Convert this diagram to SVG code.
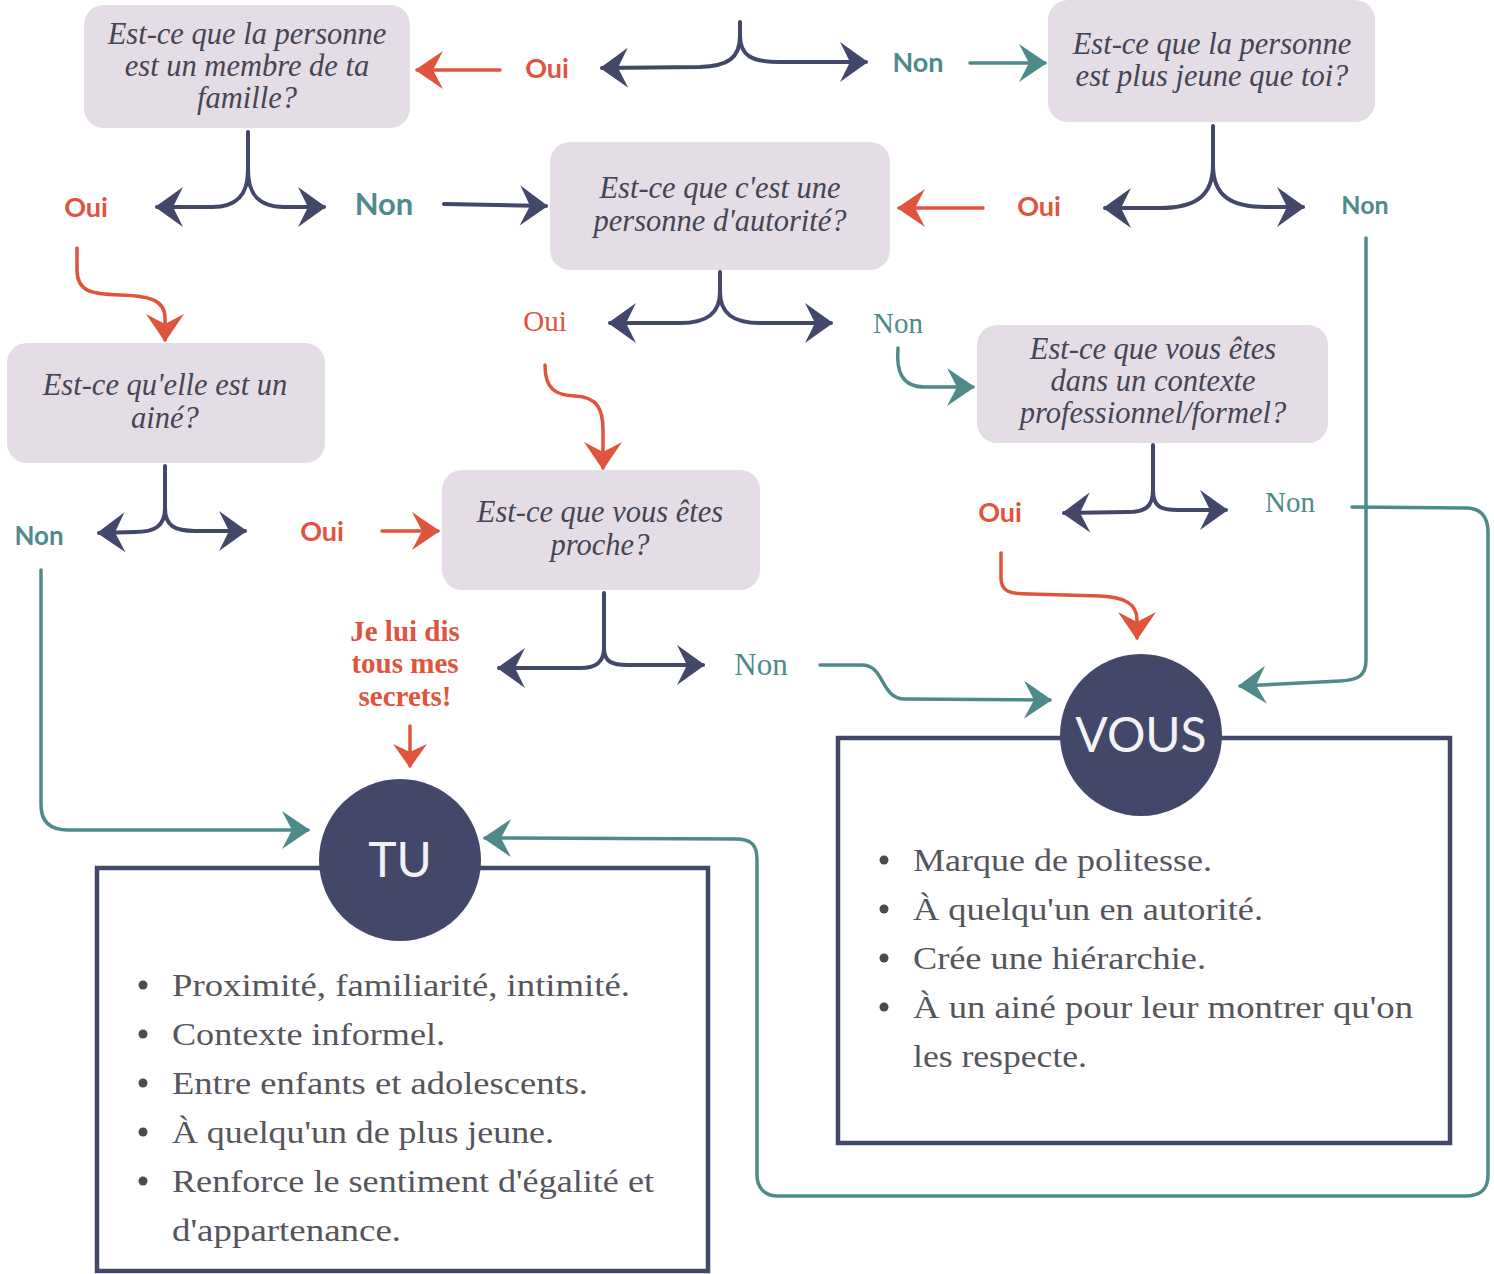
<svg xmlns="http://www.w3.org/2000/svg" width="1494" height="1274" viewBox="0 0 1494 1274">
<style>
.box{fill:#e4dde5}
.q{font-family:"Liberation Serif",serif;font-style:italic;font-size:30.5px;fill:#454556;text-anchor:middle}
.sb{font-family:Lato,"Liberation Sans",sans-serif;font-weight:bold;font-size:27px;text-anchor:middle}
.sf{font-family:"Liberation Serif",serif;font-size:29px;text-anchor:middle}
.red{fill:#e0533c}
.teal{fill:#4f8a8b}
.nv{fill:none;stroke:#434769;stroke-width:4;stroke-linecap:round}
.rd{fill:none;stroke:#e0533c;stroke-width:3.5;stroke-linecap:round}
.tl{fill:none;stroke:#4f8a8b;stroke-width:3.5;stroke-linecap:round}
.circ{fill:#434769}
.ct{font-family:Lato,"Liberation Sans",sans-serif;font-size:48px;fill:#f2f2f5;text-anchor:middle}
.panel{fill:none;stroke:#434769;stroke-width:4.5}
.bl{font-family:"Liberation Serif",serif;font-size:32px;fill:#55555c}
.dot{fill:#4a4a52}
</style>
<defs>
<marker id="ahN" markerUnits="userSpaceOnUse" markerWidth="60" markerHeight="60" viewBox="-40 -30 60 60" refX="0" refY="0" orient="auto" overflow="visible"><path d="M2,0 L-26,-20 L-16,0 L-26,20 Z" fill="#434769"/></marker>
<marker id="ahR" markerUnits="userSpaceOnUse" markerWidth="60" markerHeight="60" viewBox="-40 -30 60 60" refX="0" refY="0" orient="auto" overflow="visible"><path d="M2,0 L-26,-19 L-16,0 L-26,19 Z" fill="#e0533c"/></marker>
<marker id="ahT" markerUnits="userSpaceOnUse" markerWidth="60" markerHeight="60" viewBox="-40 -30 60 60" refX="0" refY="0" orient="auto" overflow="visible"><path d="M2,0 L-26,-19 L-16,0 L-26,19 Z" fill="#4f8a8b"/></marker>
<marker id="ahRs" markerUnits="userSpaceOnUse" markerWidth="60" markerHeight="60" viewBox="-40 -30 60 60" refX="0" refY="0" orient="auto" overflow="visible"><path d="M2,0 L-22,-17 L-14,0 L-22,17 Z" fill="#e0533c"/></marker>
</defs>

<g id="connectors">
<path class="nv" d="M740,22 V36 C740,58 728,66 700,67 L602,68" marker-end="url(#ahN)"/>
<path class="nv" d="M740,36 C740,56 752,62 780,62 L866,62" marker-end="url(#ahN)"/>
<path class="rd" d="M500,70 L417,70" marker-end="url(#ahR)"/>
<path class="tl" d="M970,63 L1045,63" marker-end="url(#ahT)"/>
<path class="nv" d="M248,132 V170 C248,196 236,207 212,207 L157,207" marker-end="url(#ahN)"/>
<path class="nv" d="M248,170 C248,196 260,207 284,207 L324,207" marker-end="url(#ahN)"/>
<path class="nv" d="M444,204 L546,206" marker-end="url(#ahN)"/>
<path class="rd" d="M77,248 V270 C77,292 92,294 120,295 C150,296 165,300 165,318 L165,340" marker-end="url(#ahR)"/>
<path class="nv" d="M1213,126 V165 C1213,196 1195,208 1160,208 L1105,208" marker-end="url(#ahN)"/>
<path class="nv" d="M1213,165 C1213,196 1231,207 1266,207 L1303,207" marker-end="url(#ahN)"/>
<path class="rd" d="M983,208 L899,208" marker-end="url(#ahR)"/>
<path class="tl" d="M1366,238 V660 C1366,676 1358,680 1340,681 L1240,686" marker-end="url(#ahT)"/>
<path class="nv" d="M720,272 V292 C720,314 706,323 680,323 L610,323" marker-end="url(#ahN)"/>
<path class="nv" d="M720,292 C720,314 734,323 760,323 L831,323" marker-end="url(#ahN)"/>
<path class="rd" d="M545,365 C545,390 556,395 575,396 C598,397 603,410 603,430 L603,468" marker-end="url(#ahR)"/>
<path class="tl" d="M898,348 C896,372 902,387 925,387 L973,387" marker-end="url(#ahT)"/>
<path class="nv" d="M165,466 V508 C165,526 155,532 135,532 L99,533" marker-end="url(#ahN)"/>
<path class="nv" d="M165,508 C165,526 175,531 195,531 L245,531" marker-end="url(#ahN)"/>
<path class="rd" d="M382,531 L438,531" marker-end="url(#ahR)"/>
<path class="tl" d="M41,570 V805 C41,822 50,830 68,830 L308,830" marker-end="url(#ahT)"/>
<path class="nv" d="M604,593 V648 C604,662 596,668 580,668 L499,668" marker-end="url(#ahN)"/>
<path class="nv" d="M604,648 C604,662 612,665 628,665 L703,665" marker-end="url(#ahN)"/>
<path class="rd" d="M410,726 L410,766" marker-end="url(#ahRs)"/>
<path class="tl" d="M820,665 L862,665 C885,665 880,699 905,699 L1050,700" marker-end="url(#ahT)"/>
<path class="nv" d="M1153,445 V490 C1153,507 1145,512 1128,512 L1064,513" marker-end="url(#ahN)"/>
<path class="nv" d="M1153,490 C1153,507 1161,510 1178,510 L1226,510" marker-end="url(#ahN)"/>
<path class="rd" d="M1001,553 V578 C1001,592 1010,594 1030,594 L1100,596 C1125,597 1137,604 1137,620 L1137,638" marker-end="url(#ahR)"/>
<path class="tl" d="M1352,507 L1466,508 C1480,508 1488,516 1488,532 L1488,1175 C1488,1190 1480,1196 1465,1196 L778,1196 C765,1196 757,1188 757,1175 L757,860 C757,845 752,839 735,839 L485,838" marker-end="url(#ahT)"/>
</g>

<g id="box-famille">
<rect class="box" x="84" y="5" width="326" height="123" rx="20"/>
<text class="q"><tspan x="247" y="44">Est-ce que la personne</tspan><tspan x="247" y="76">est un membre de ta</tspan><tspan x="247" y="108">famille?</tspan></text>
</g>
<g id="box-jeune">
<rect class="box" x="1048" y="0" width="327" height="122" rx="20"/>
<text class="q"><tspan x="1212" y="54">Est-ce que la personne</tspan><tspan x="1212" y="86">est plus jeune que toi?</tspan></text>
</g>
<g id="box-autorite">
<rect class="box" x="550" y="142" width="340" height="128" rx="20"/>
<text class="q"><tspan x="720" y="198">Est-ce que c'est une</tspan><tspan x="720" y="231">personne d'autorité?</tspan></text>
</g>
<g id="box-aine">
<rect class="box" x="7" y="343" width="318" height="120" rx="20"/>
<text class="q"><tspan x="165" y="395">Est-ce qu'elle est un</tspan><tspan x="165" y="428">ainé?</tspan></text>
</g>
<g id="box-proche">
<rect class="box" x="442" y="470" width="318" height="120" rx="20"/>
<text class="q"><tspan x="600" y="522">Est-ce que vous êtes</tspan><tspan x="600" y="555">proche?</tspan></text>
</g>
<g id="box-contexte">
<rect class="box" x="977" y="325" width="351" height="118" rx="20"/>
<text class="q"><tspan x="1153" y="359">Est-ce que vous êtes</tspan><tspan x="1153" y="391">dans un contexte</tspan><tspan x="1153" y="423">professionnel/formel?</tspan></text>
</g>

<g id="labels">
<text class="sb red" x="547" y="78">Oui</text>
<text class="sb teal" x="918" y="72">Non</text>
<text class="sb red" x="86" y="217">Oui</text>
<text class="sb teal" x="384" y="215" style="font-size:31px">Non</text>
<text class="sb red" x="1039" y="216">Oui</text>
<text class="sb teal" x="1365" y="214" style="font-size:25px">Non</text>
<text class="sb teal" x="39" y="545" style="font-size:26px">Non</text>
<text class="sb red" x="322" y="541">Oui</text>
<text class="sb red" x="1000" y="522">Oui</text>
<text class="sf red" x="545" y="331">Oui</text>
<text class="sf teal" x="898" y="333">Non</text>
<text class="sf teal" x="761" y="675" style="font-size:31px">Non</text>
<text class="sf teal" x="1290" y="512">Non</text>
<text class="sf red" style="font-weight:bold;font-size:29px"><tspan x="405" y="641">Je lui dis</tspan><tspan x="405" y="673">tous mes</tspan><tspan x="405" y="706">secrets!</tspan></text>
</g>

<g id="tu">
<rect class="panel" x="97" y="868" width="611" height="403"/>
<circle class="circ" cx="400" cy="860" r="81"/>
<text class="ct" x="400" y="877">TU</text>
<circle class="dot" cx="143" cy="985" r="4.5"/>
<circle class="dot" cx="143" cy="1034" r="4.5"/>
<circle class="dot" cx="143" cy="1083" r="4.5"/>
<circle class="dot" cx="143" cy="1132" r="4.5"/>
<circle class="dot" cx="143" cy="1181" r="4.5"/>
<text class="bl" x="172" y="996" textLength="458" lengthAdjust="spacingAndGlyphs">Proximité, familiarité, intimité.</text>
<text class="bl" x="172" y="1045" textLength="273" lengthAdjust="spacingAndGlyphs">Contexte informel.</text>
<text class="bl" x="172" y="1094" textLength="416" lengthAdjust="spacingAndGlyphs">Entre enfants et adolescents.</text>
<text class="bl" x="172" y="1143" textLength="382" lengthAdjust="spacingAndGlyphs">À quelqu'un de plus jeune.</text>
<text class="bl" x="172" y="1192" textLength="482" lengthAdjust="spacingAndGlyphs">Renforce le sentiment d'égalité et</text>
<text class="bl" x="172" y="1241" textLength="229" lengthAdjust="spacingAndGlyphs">d'appartenance.</text>
</g>

<g id="vous">
<rect class="panel" x="838" y="738" width="612" height="405"/>
<circle class="circ" cx="1141" cy="735" r="81"/>
<text class="ct" x="1141" y="752">VOUS</text>
<circle class="dot" cx="884" cy="860" r="4.5"/>
<circle class="dot" cx="884" cy="909" r="4.5"/>
<circle class="dot" cx="884" cy="958" r="4.5"/>
<circle class="dot" cx="884" cy="1007" r="4.5"/>
<text class="bl" x="913" y="871" textLength="299" lengthAdjust="spacingAndGlyphs">Marque de politesse.</text>
<text class="bl" x="913" y="920" textLength="350" lengthAdjust="spacingAndGlyphs">À quelqu'un en autorité.</text>
<text class="bl" x="913" y="969" textLength="293" lengthAdjust="spacingAndGlyphs">Crée une hiérarchie.</text>
<text class="bl" x="913" y="1018" textLength="500" lengthAdjust="spacingAndGlyphs">À un ainé pour leur montrer qu'on</text>
<text class="bl" x="913" y="1067" textLength="174" lengthAdjust="spacingAndGlyphs">les respecte.</text>
</g>
</svg>
